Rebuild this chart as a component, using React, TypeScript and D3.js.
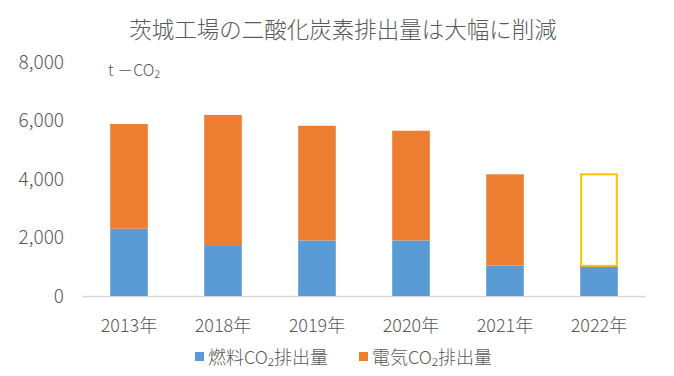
import React from "react";
import * as d3 from "d3";

const categories = ["2013年", "2018年", "2019年", "2020年", "2021年", "2022年"];
const fuelCO2 = [2300, 1740, 1900, 1900, 1040, 1030];
const elecCO2 = [3580, 4450, 3920, 3750, 3120, null as number | null];
const targetTotal = [null, null, null, null, null, 4160] as (number | null)[];
const yTicks = [0, 2000, 4000, 6000, 8000];
const seriesNames = ["燃料CO₂排出量", "電気CO₂排出量"];
const title = "茨城工場の二酸化炭素排出量は大幅に削減";
const unitLabel = "t －CO₂";

const W = 674;
const H = 376;
const FONT = "'Noto Sans CJK JP', 'Noto Sans', sans-serif";
const TEXT = "#595959";
const BLUE = "#5B9BD5";
const ORANGE = "#ED7D31";
const GOLD = "#FFC000";

export default function App() {
  const x = d3.scaleBand<string>().domain(categories).range([82, 646]).paddingInner(0.6).paddingOuter(0.3);
  const y = d3.scaleLinear().domain([0, 8000]).range([296, 62]);
  const bw = x.bandwidth();
  const fmt = d3.format(",");

  return (
    <svg width={W} height={H} style={{ position: "fixed", left: 0, top: 0, background: "#fff" }} fontFamily={FONT} fontWeight={300}>
      <rect width={W} height={H} fill="#fff" />
      <text x={343} y={38} textAnchor="middle" fontSize={22.5} fill={TEXT}>{title}</text>
      {yTicks.map((t) => (
        <text key={t} x={64} y={y(t) + 6.5} textAnchor="end" fontSize={19} fill={TEXT}>{fmt(t)}</text>
      ))}
      <text x={108} y={76} fontSize={16} fill={TEXT}>{unitLabel}</text>
      <line x1={82} x2={646} y1={y(0) + 0.5} y2={y(0) + 0.5} stroke="#D9D9D9" strokeWidth={1.5} />
      {categories.map((c, i) => {
        const x0 = x(c)!;
        const f = fuelCO2[i];
        const e = elecCO2[i];
        const t = targetTotal[i];
        return (
          <g key={c}>
            <rect x={x0} y={y(f)} width={bw} height={y(0) - y(f)} fill={BLUE} />
            {e != null && <rect x={x0} y={y(f + e)} width={bw} height={y(f) - y(f + e)} fill={ORANGE} />}
            {t != null && (
              <rect x={x0 + 1} y={y(t)} width={bw - 2} height={y(f) - y(t)} fill="none" stroke={GOLD} strokeWidth={2} />
            )}
            <text x={x0 + bw / 2} y={332} textAnchor="middle" fontSize={18} fill={TEXT}>{c}</text>
          </g>
        );
      })}
      {seriesNames.map((n, i) => {
        const lx = i === 0 ? 195 : 359;
        return (
          <g key={n}>
            <rect x={lx} y={352} width={9} height={9} fill={i === 0 ? BLUE : ORANGE} />
            <text x={lx + 13} y={364} fontSize={18} fill={TEXT}>{n}</text>
          </g>
        );
      })}
    </svg>
  );
}
